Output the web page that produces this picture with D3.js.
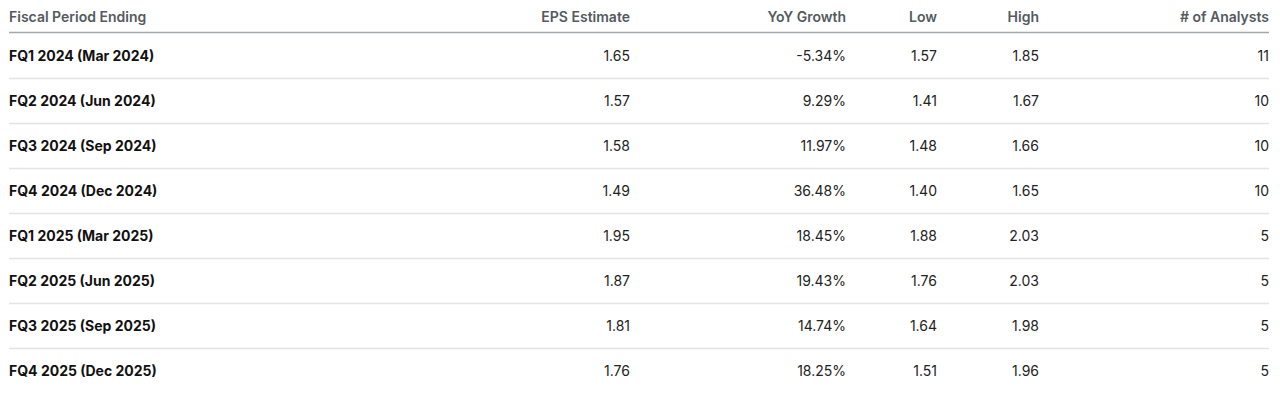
<!DOCTYPE html>
<html>
<head>
<meta charset="utf-8">
<script src="https://cdn.jsdelivr.net/npm/d3@7"></script>
<style>
  html, body { margin: 0; padding: 0; background: #fff; }
  svg text { font-family: Inter, "Noto Sans", Roboto, sans-serif; }
</style>
</head>
<body>
<svg id="SVG_CONTAINER"></svg>
<script>
// table data
const headers = ["Fiscal Period Ending", "EPS Estimate", "YoY Growth", "Low", "High", "# of Analysts"];
const periods = ["FQ1 2024 (Mar 2024)", "FQ2 2024 (Jun 2024)", "FQ3 2024 (Sep 2024)", "FQ4 2024 (Dec 2024)",
                 "FQ1 2025 (Mar 2025)", "FQ2 2025 (Jun 2025)", "FQ3 2025 (Sep 2025)", "FQ4 2025 (Dec 2025)"];
const epsEstimate = ["1.65", "1.57", "1.58", "1.49", "1.95", "1.87", "1.81", "1.76"];
const yoyGrowth = ["-5.34%", "9.29%", "11.97%", "36.48%", "18.45%", "19.43%", "14.74%", "18.25%"];
const low = ["1.57", "1.41", "1.48", "1.40", "1.88", "1.76", "1.64", "1.51"];
const high = ["1.85", "1.67", "1.66", "1.65", "2.03", "2.03", "1.98", "1.96"];
const analysts = ["11", "10", "10", "10", "5", "5", "5", "5"];

const width = 1280, height = 403;
const MARGIN = { LEFT: 9, RIGHT: 11, TOP: 33 };

// x position of each column's anchor edge
const colX = [MARGIN.LEFT, 630, 846, 937, 1039, width - MARGIN.RIGHT];
const colAnchor = ["start", "end", "end", "end", "end", "end"];

const rows = periods.map((p, i) => [p, epsEstimate[i], yoyGrowth[i], low[i], high[i], analysts[i]]);

const yScale = d3.scaleBand()
    .domain(d3.range(rows.length))
    .range([MARGIN.TOP, MARGIN.TOP + 45 * rows.length]);

const svg = d3.select("#SVG_CONTAINER")
    .attr("width", width)
    .attr("height", height);

// header
svg.append("g").selectAll("text")
    .data(headers)
    .join("text")
      .attr("x", (d, i) => colX[i])
      .attr("y", 17.5)
      .attr("dy", "0.35em")
      .attr("text-anchor", (d, i) => colAnchor[i])
      .style("font-size", "14px")
      .style("font-weight", 600)
      .style("fill", "#555a60")
      .text(d => d);

svg.append("line")
    .attr("x1", MARGIN.LEFT).attr("x2", width - MARGIN.RIGHT)
    .attr("y1", 32.5).attr("y2", 32.5)
    .attr("stroke", "#a3a8ae")
    .attr("stroke-width", 1.5);

// row separators
svg.append("g").selectAll("line")
    .data(d3.range(1, rows.length))
    .join("line")
      .attr("x1", MARGIN.LEFT).attr("x2", width - MARGIN.RIGHT)
      .attr("y1", d => yScale(d) + 0.5).attr("y2", d => yScale(d) + 0.5)
      .attr("stroke", "#e4e4e4")
      .attr("stroke-width", 1.5);

// cells
const rowG = svg.append("g").selectAll("g")
    .data(rows)
    .join("g")
      .attr("transform", (d, i) => "translate(0," + (yScale(i) + yScale.bandwidth() / 2 + 1) + ")");

rowG.selectAll("text")
    .data(d => d)
    .join("text")
      .attr("x", (d, i) => colX[i])
      .attr("dy", "0.35em")
      .attr("text-anchor", (d, i) => colAnchor[i])
      .style("font-size", "14px")
      .style("font-weight", (d, i) => i === 0 ? 700 : 400)
      .style("fill", (d, i) => i === 0 ? "#111" : "#222")
      .text(d => d);
</script>
</body>
</html>
